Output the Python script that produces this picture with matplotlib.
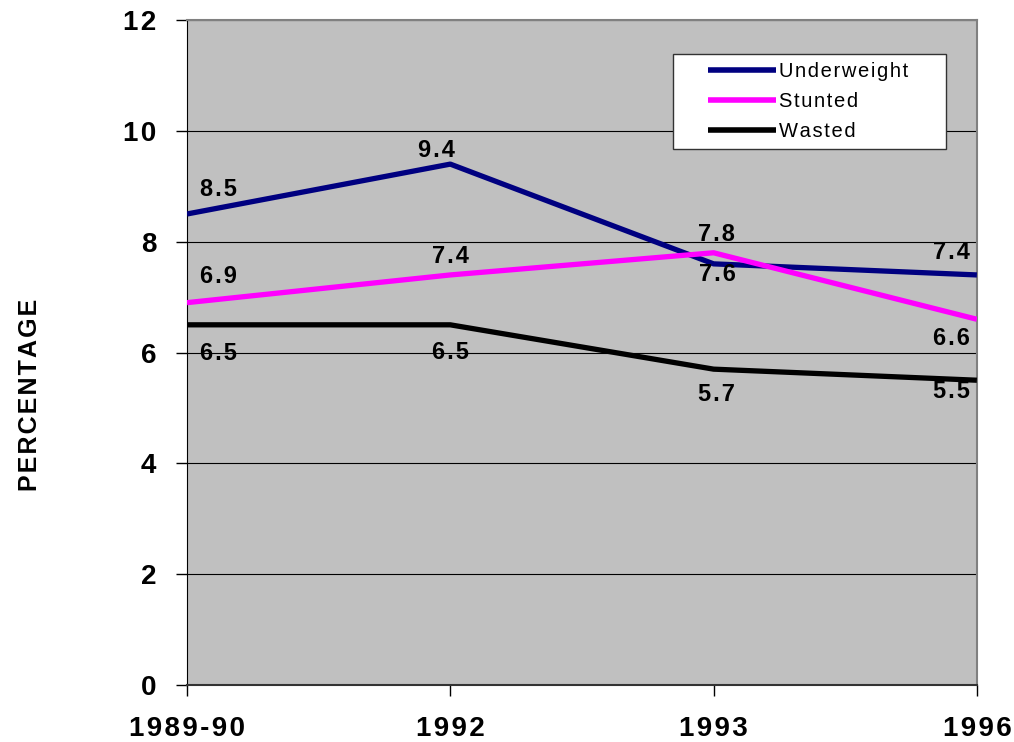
import matplotlib
matplotlib.use("Agg")
from matplotlib import pyplot as plt

plt.rcParams['font.family'] = ['Liberation Sans', 'DejaVu Sans']

years = ['1989-90', '1992', '1993', '1996']
underweight = [8.5, 9.4, 7.6, 7.4]
stunted = [6.9, 7.4, 7.8, 6.6]
wasted = [6.5, 6.5, 5.7, 5.5]

# label offsets in pixels for each point (dx, dy)
uw_off = [(31, 24), (-14, 14), (4, -11), (-25, 22)]
st_off = [(31, 26), (0, 18), (3, 18), (-25, -19)]
wa_off = [(31, -29), (0, -28), (3, -25), (-25, -11)]


def spaced(s):
    # widen the tracking a little with hair spaces
    return '\u200a'.join(s)


fig = plt.figure(figsize=(10.14, 7.42), dpi=100)
ax = fig.add_axes([0.1844, 0.0768, 0.779, 0.8962])
ax.set_facecolor('#C0C0C0')

x = list(range(len(years)))
series = [
    ('Underweight', underweight, '#000080', uw_off),
    ('Stunted', stunted, '#FF00FF', st_off),
    ('Wasted', wasted, 'black', wa_off),
]
for name, vals, col, offs in series:
    ax.plot(x, vals, color=col, lw=3.8, label=spaced(name), solid_capstyle='butt', zorder=3)
    for xi, v, (dx, dy) in zip(x, vals, offs):
        ax.annotate(spaced(f'{v:.1f}'), (xi, v), xytext=(dx, dy), textcoords='offset pixels',
                    ha='center', va='center', fontsize=17, fontweight='bold', zorder=4)

ax.set_xlim(0, 3)
ax.set_ylim(0, 12)
yt = list(range(0, 13, 2))
ax.set_yticks(yt)
ax.set_yticklabels([spaced(str(v)) for v in yt])
ax.set_xticks(x)
ax.set_xticklabels([spaced(y) for y in years])
ax.yaxis.grid(True, color='black', lw=0.8)
ax.set_axisbelow(True)
ax.tick_params(axis='both', direction='out', length=8, width=1, labelsize=20, colors='black')
for lab in ax.get_xticklabels() + ax.get_yticklabels():
    lab.set_fontweight('bold')
ax.tick_params(axis='x', pad=14)
ax.tick_params(axis='y', pad=14)

ax.spines['left'].set_color('black')
ax.spines['bottom'].set_color('#333333')
ax.spines['bottom'].set_linewidth(1.5)
ax.spines['top'].set_color('#808080')
ax.spines['right'].set_color('#808080')
ax.spines['top'].set_linewidth(1.5)
ax.spines['right'].set_linewidth(1.5)

fig.text(0.03, 0.468, spaced('PERCENTAGE'), rotation=90, ha='center', va='center',
         fontsize=18, fontweight='bold')

leg = ax.legend(loc='upper left', bbox_to_anchor=(0.615, 0.801, 0.346, 0.148),
                mode='expand', borderaxespad=0, fontsize=14.5, handlelength=4.72,
                handletextpad=0.15, labelspacing=0.55, borderpad=0.4,
                fancybox=False, framealpha=1, edgecolor='#333333')
leg.get_frame().set_linewidth(1.0)
for line in leg.get_lines():
    line.set_linewidth(4)
    yd = line.get_ydata()
    line.set_data([19.4, 68.4], [yd[0], yd[0]])

fig.savefig('out.png', dpi=100)
